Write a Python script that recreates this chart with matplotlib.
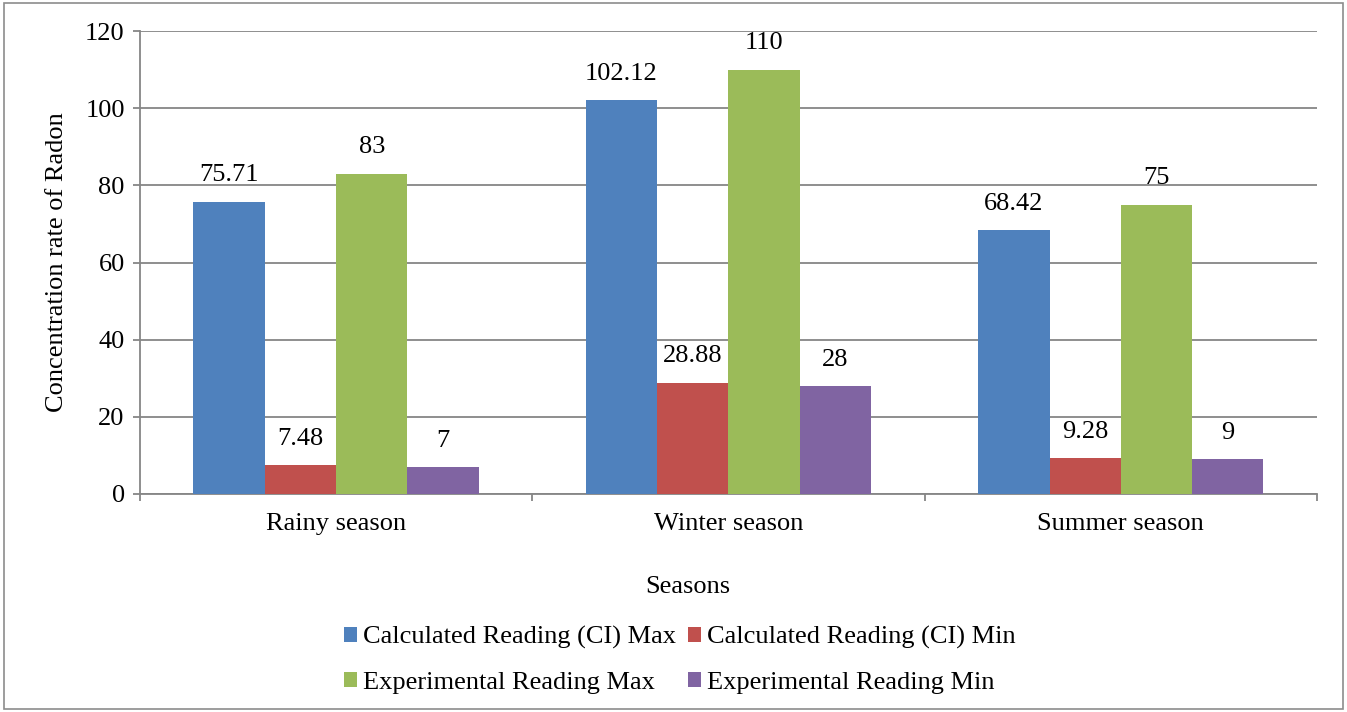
import matplotlib
matplotlib.use("Agg")
import matplotlib.pyplot as plt
from matplotlib.patches import Rectangle, Patch
import numpy as np

plt.rcParams['font.family'] = ['Liberation Serif', 'DejaVu Serif']

categories = ["Rainy season", "Winter season", "Summer season"]
series_names = ["Calculated Reading (CI) Max", "Calculated Reading (CI) Min",
                "Experimental Reading Max", "Experimental Reading Min"]
calc_max = [75.71, 102.12, 68.42]
calc_min = [7.48, 28.88, 9.28]
exp_max = [83, 110, 75]
exp_min = [7, 28, 9]
value_labels = [["75.71", "102.12", "68.42"],
                ["7.48", "28.88", "9.28"],
                ["83", "110", "75"],
                ["7", "28", "9"]]
colors = ["#4F81BD", "#C0504D", "#9BBB59", "#8064A2"]

series = [calc_max, calc_min, exp_max, exp_min]
FS = 19

W, H = 1347, 712
fig = plt.figure(figsize=(W / 100, H / 100), dpi=100)
fig.patch.set_facecolor("white")

# outer chart border
fig.add_artist(Rectangle((4 / W, 3 / H), (1343 - 4) / W, (709 - 3) / H,
                         transform=fig.transFigure, fill=False,
                         edgecolor="#8C8C8C", linewidth=1.2))

ax = fig.add_axes([140 / W, 1 - 494 / H, (1317 - 140) / W, (494 - 31) / H])

n = len(series)
bar_w = 1 / 5.5
x = np.arange(len(categories))
for i, (vals, col) in enumerate(zip(series, colors)):
    pos = x + (i - (n - 1) / 2) * bar_w
    bars = ax.bar(pos, vals, width=bar_w, color=col, zorder=3,
                  label=series_names[i])
    for b, v, lab in zip(bars, vals, value_labels[i]):
        ax.annotate(lab, (b.get_x() + b.get_width() / 2, v),
                    xytext=(0, 19), textcoords="offset points",
                    ha="center", va="center", fontsize=FS, color="black")

ax.set_xlim(-0.5, len(categories) - 0.5)
ax.set_ylim(0, 120)
ax.set_yticks(np.arange(0, 121, 20))
ax.yaxis.grid(True, color="#868686", linewidth=1.3, zorder=0)
ax.set_axisbelow(True)

for s in ["top", "right"]:
    ax.spines[s].set_visible(False)
for s in ["left", "bottom"]:
    ax.spines[s].set_color("#868686")
    ax.spines[s].set_linewidth(1.3)

ax.tick_params(axis="y", length=5, width=1.3, color="#868686",
               labelsize=FS, pad=6)
# category ticks sit between groups
ax.set_xticks(np.arange(-0.5, len(categories) + 0.5, 1))
ax.set_xticklabels([])
ax.tick_params(axis="x", length=5, width=1.3, color="#868686")
ax.set_xticks(x, minor=True)
ax.set_xticklabels(categories, minor=True, fontsize=FS)
ax.tick_params(axis="x", which="minor", length=0, pad=14)

ax.set_ylabel("Concentration rate of Radon", fontsize=FS, labelpad=12)
ax.set_xlabel("Seasons", fontsize=FS, labelpad=29)
ax.xaxis.label.set_x((688 - 140) / (1317 - 140))

# legend filled row by row: matplotlib fills columns, so reorder
order = [0, 2, 1, 3]
handles = [Patch(facecolor=colors[k]) for k in order]
labels = [series_names[k] for k in order]
fig.legend(handles, labels, loc="center", ncol=2,
           bbox_to_anchor=(680 / W, 1 - 660 / H), frameon=False,
           fontsize=FS, handlelength=0.49, handleheight=0.49,
           handletextpad=0.23, columnspacing=0.45, labelspacing=0.85)

fig.savefig("out.png", dpi=100, facecolor="white")
